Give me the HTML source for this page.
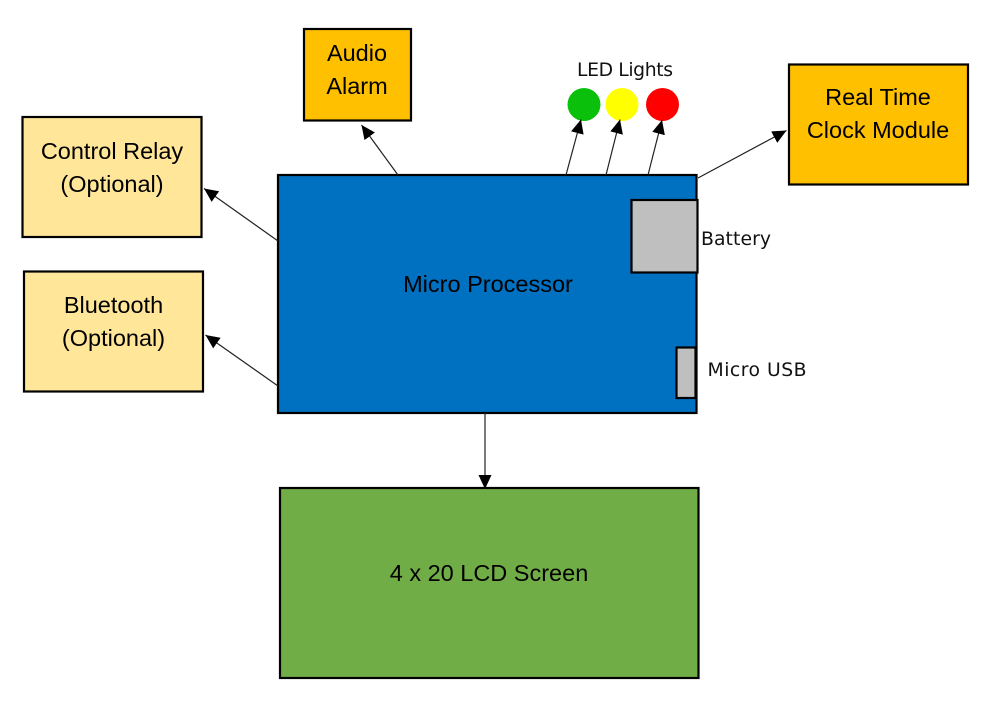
<!DOCTYPE html>
<html>
<head>
<meta charset="utf-8">
<style>
html,body{margin:0;padding:0;background:#fff;}
svg{display:block;filter:blur(0.3px);}
.a{font-family:"Liberation Sans",sans-serif;font-size:23.5px;fill:#000;text-anchor:middle;}
.c{font-family:"DejaVu Sans","Liberation Sans",sans-serif;font-size:18.8px;fill:#111;}
</style>
</head>
<body>
<svg width="1000" height="704" viewBox="0 0 1000 704" xmlns="http://www.w3.org/2000/svg">
<defs>
<marker id="m" markerUnits="userSpaceOnUse" markerWidth="15" markerHeight="13" refX="14" refY="6.500" orient="auto">
<path d="M0 0L14 6.500L0 13Z" fill="#000"/>
</marker>
</defs>
<rect x="304" y="29" width="107" height="91.500" fill="#FFC000" stroke="#000" stroke-width="2.200"/>
<rect x="789" y="64.500" width="179" height="120" fill="#FFC000" stroke="#000" stroke-width="2.200"/>
<rect x="22.500" y="117" width="179" height="120" fill="#FFE699" stroke="#000" stroke-width="2.200"/>
<rect x="24" y="271.500" width="179" height="120" fill="#FFE699" stroke="#000" stroke-width="2.200"/>
<rect x="278" y="175" width="418.500" height="238" fill="#0070C0" stroke="#000" stroke-width="2.200"/>
<rect x="280" y="488" width="418.500" height="190" fill="#70AD47" stroke="#000" stroke-width="2.200"/>
<rect x="631.500" y="200" width="66" height="72.500" fill="#BFBFBF" stroke="#000" stroke-width="2.200"/>
<rect x="676.500" y="347.500" width="19" height="50.500" fill="#BFBFBF" stroke="#000" stroke-width="2.200"/>
<circle cx="584" cy="104.500" r="16.500" fill="#0AC00A"/>
<circle cx="622" cy="104.500" r="16.500" fill="#FFFF00"/>
<circle cx="662.500" cy="104.500" r="16.500" fill="#FF0000"/>
<g stroke="#222" stroke-width="1.200" fill="none" marker-end="url(#m)">
<line x1="398" y1="175" x2="361.500" y2="125"/>
<line x1="566" y1="175" x2="581" y2="119.500"/>
<line x1="606" y1="175" x2="620" y2="119.500"/>
<line x1="648" y1="175" x2="662" y2="120"/>
<line x1="698" y1="178" x2="786.500" y2="130.500"/>
<line x1="278" y1="241" x2="204" y2="188.500"/>
<line x1="278" y1="386" x2="205.500" y2="335"/>
<line x1="485" y1="413" x2="485" y2="489"/>
</g>
<text class="a" x="357" y="61">Audio</text>
<text class="a" x="357" y="94">Alarm</text>
<text class="a" x="878" y="105">Real Time</text>
<text class="a" x="878" y="138">Clock Module</text>
<text class="a" x="112" y="159">Control Relay</text>
<text class="a" x="112" y="192">(Optional)</text>
<text class="a" x="113.500" y="313">Bluetooth</text>
<text class="a" x="113.500" y="346">(Optional)</text>
<text class="a" x="488" y="292">Micro Processor</text>
<text class="a" x="489" y="581">4 x 20 LCD Screen</text>
<text class="c" x="577" y="76" textLength="96">LED Lights</text>
<text class="c" x="701" y="245" textLength="70">Battery</text>
<text class="c" x="707.500" y="376" textLength="99">Micro USB</text>
</svg>
</body>
</html>
